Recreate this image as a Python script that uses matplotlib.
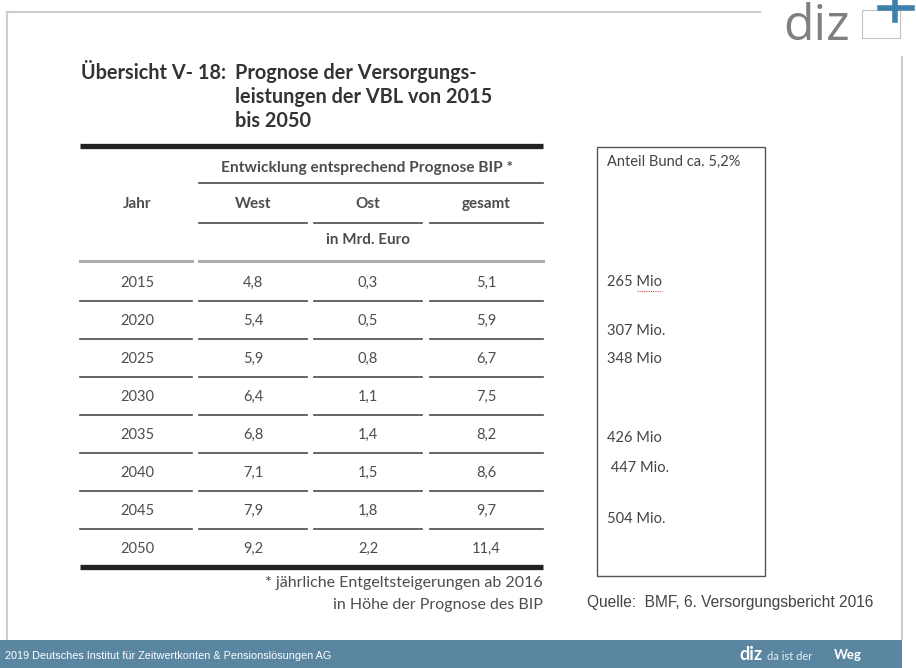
import matplotlib.pyplot as plt
from matplotlib.patches import Rectangle

# table data
years = ['2015', '2020', '2025', '2030', '2035', '2040', '2045', '2050']
west = ['4,8', '5,4', '5,9', '6,4', '6,8', '7,1', '7,9', '9,2']
ost = ['0,3', '0,5', '0,8', '1,1', '1,4', '1,5', '1,8', '2,2']
gesamt = ['5,1', '5,9', '6,7', '7,5', '8,2', '8,6', '9,7', '11,4']
col_heads = ['West', 'Ost', 'gesamt']
bund_labels = ['265 Mio', '307 Mio.', '348 Mio', '426 Mio', ' 447 Mio.', '504 Mio.']

# layout (pixel coordinates, y downwards)
W, H = 916, 668
col_x = [137, 253, 368, 486]
col_seg = [(80, 192), (199, 307), (314, 422), (430, 543)]
row_y0, row_dy = 283, 38
bund_y = [282, 331, 359, 438, 468, 519]

TXT = '#4d4d4d'
LINE = '#4a4a4a'
fam = ['Lato', 'DejaVu Sans']
FS = 10.5

fig = plt.figure(figsize=(W / 100, H / 100), dpi=100)
ax = fig.add_axes([0, 0, 1, 1])
ax.set_xlim(0, W)
ax.set_ylim(H, 0)
ax.axis('off')

# slide frame
ax.plot([7, 760], [12, 12], color='#c9ced3', lw=1.5)
ax.plot([7, 7], [12, 639], color='#c9ced3', lw=1.5)
ax.plot([902, 902], [57, 639], color='#c9ced3', lw=1.5)
ax.text(783, 40, 'diz', fontsize=36, color='#808080', family=['Open Sans', 'DejaVu Sans'],
        va='baseline', ha='left')
ax.add_patch(Rectangle((862, 10), 38, 28, fill=False, ec='#c0c0c0', lw=0.8))
ax.plot([895, 895], [0, 20], color='#3f7fae', lw=4)
ax.plot([880, 912], [8, 8], color='#3f7fae', lw=4)

# footer band
ax.add_patch(Rectangle((0, 640), 902, H - 640, color='#5a86a2', lw=0))
ax.text(5, 656, '2019 Deutsches Institut für Zeitwertkonten & Pensionslösungen AG',
        fontsize=7.8, color='white', family=['Liberation Sans Narrow', 'Liberation Sans'],
        va='center', ha='left')
ax.text(739, 655, 'diz', fontsize=13, color='white', fontweight='bold', family=fam,
        va='center', ha='left')
ax.text(767, 656, 'da ist der', fontsize=8, color='#e8eef3', family=fam,
        va='center', ha='left')
ax.text(834, 655, 'Weg', fontsize=9.5, color='white', fontweight='bold', family=fam,
        va='center', ha='left')

# title
ax.text(81, 73, 'Übersicht V- 18:', fontsize=14.3, fontweight='bold', color='#333333',
        family=fam, va='center')
for i, line in enumerate(['Prognose der Versorgungs-', 'leistungen der VBL von 2015', 'bis 2050']):
    ax.text(235, 73 + i * 24, line, fontsize=14.3, fontweight='bold', color='#333333',
            family=fam, va='center')

# table header
ax.plot([80, 543], [146, 146], color='#222222', lw=3.8, solid_capstyle='butt')
ax.text(367, 168, 'Entwicklung entsprechend Prognose BIP *', fontsize=11.2,
        fontweight='bold', color=TXT, family=fam, ha='center', va='center')
ax.plot([199, 543], [183, 183], color=LINE, lw=1.2)
ax.text(col_x[0], 204, 'Jahr', fontsize=11, fontweight='bold', color=TXT, family=fam,
        ha='center', va='center')
for x, h in zip(col_x[1:], col_heads):
    ax.text(x, 204, h, fontsize=11, fontweight='bold', color=TXT, family=fam,
            ha='center', va='center')
for a, b in col_seg[1:]:
    ax.plot([a, b], [223, 223], color=LINE, lw=1.2)
ax.text(368, 240, 'in Mrd. Euro', fontsize=11, fontweight='bold', color=TXT, family=fam,
        ha='center', va='center')
ax.plot([80, 192], [261, 261], color='#b0b0b0', lw=2.2)
ax.plot([199, 543], [261, 261], color='#b0b0b0', lw=2.2)

# table body
for i, row in enumerate(zip(years, west, ost, gesamt)):
    y = row_y0 + i * row_dy
    for x, v in zip(col_x, row):
        ax.text(x, y, v, fontsize=FS, color=TXT, family=fam, ha='center', va='center')
    if i < len(years) - 1:
        for a, b in col_seg:
            ax.plot([a, b], [y + 18, y + 18], color=LINE, lw=1.2)
ax.plot([80, 543], [567, 567], color='#222222', lw=3.8, solid_capstyle='butt')

ax.text(543, 583, '* jährliche Entgeltsteigerungen ab 2016', fontsize=11.5, color=TXT,
        family=fam, ha='right', va='center')
ax.text(543, 605, 'in Höhe der Prognose des BIP', fontsize=11.5, color=TXT,
        family=fam, ha='right', va='center')

# side box with federal share
ax.add_patch(Rectangle((597, 147), 168, 429, fill=False, ec='#555555', lw=1.0))
ax.text(607, 162, 'Anteil Bund ca. 5,2%', fontsize=10.5, color='#444444', family=fam,
        va='center', ha='left')
for y, lab in zip(bund_y, bund_labels):
    ax.text(607, y, lab, fontsize=10.5, color='#444444', family=fam, va='center', ha='left')
ax.plot([637, 662], [291, 291], color='#e05050', lw=0.8, ls=(0, (1, 1)))

ax.text(587, 603, 'Quelle:  BMF, 6. Versorgungsbericht 2016', fontsize=11.2,
        color='#444444', family=['Liberation Sans', 'DejaVu Sans'], va='center', ha='left')

fig.savefig('out.png', dpi=100)
